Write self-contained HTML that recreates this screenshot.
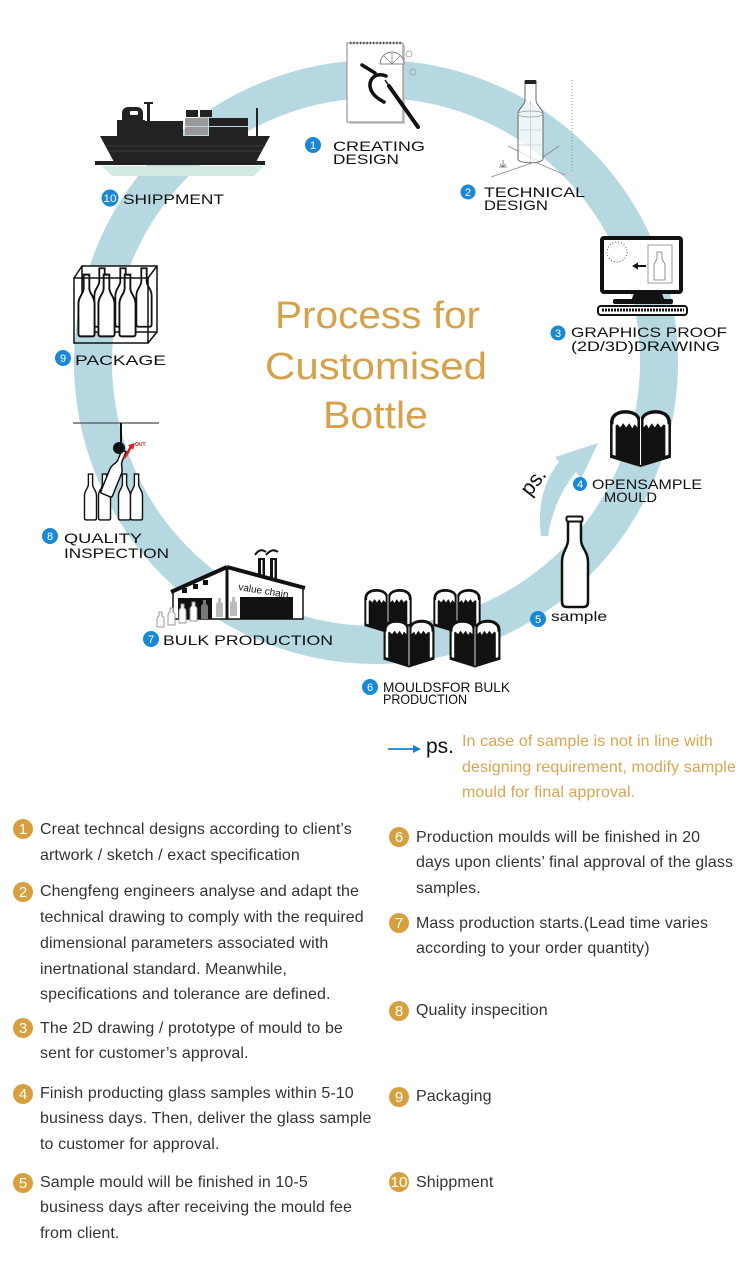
<!DOCTYPE html>
<html>
<head>
<meta charset="utf-8">
<style>
  html,body{margin:0;padding:0;background:#fff;}
  body{width:750px;height:1263px;overflow:hidden;}
  svg{display:block;}
  .lbl{font-family:"Liberation Sans",Arial,sans-serif;font-size:14px;fill:#111;}
  .num{font-family:"Liberation Sans",Arial,sans-serif;font-size:11px;fill:#fff;text-anchor:middle;}
  .tt{font-family:"Liberation Sans",Arial,sans-serif;font-size:38px;fill:#d5a24b;}
  .p{font-family:"Liberation Sans",Arial,sans-serif;font-size:16px;fill:#333;letter-spacing:0.1px;}
  .g{font-family:"Liberation Sans",Arial,sans-serif;font-size:16px;fill:#d8a550;letter-spacing:0.1px;}
  .gn{font-family:"Liberation Sans",Arial,sans-serif;font-size:15px;fill:#fff;text-anchor:middle;}
</style>
</head>
<body>
<svg width="750" height="1263" viewBox="0 0 750 1263" xmlns="http://www.w3.org/2000/svg">
  <defs>
    <symbol id="mould" viewBox="0 0 66 64">
      <polygon points="8,52 33,61 58,52 33,56" fill="#bbb"/>
      <g>
        <path d="M33 60 L3 51 L3 16 C3 8 10 4 18 4 C26 4 33 8 33 14 Z" fill="#111"/>
        <path d="M6.5 16 C6.5 10 12 7.5 18 7.5 C25 7.5 30 10 30 15 L30 21 L27 18 L25 22 L22 17 L19 21 L16 17 L13 21 L10 18 L6.5 21 Z" fill="#fff"/>
        <path d="M5.5 18 L8.5 18 L8.5 49 L5.5 48 Z" fill="#fff"/>
      </g>
      <g transform="translate(66,0) scale(-1,1)">
        <path d="M33 60 L3 51 L3 16 C3 8 10 4 18 4 C26 4 33 8 33 14 Z" fill="#111"/>
        <path d="M6.5 16 C6.5 10 12 7.5 18 7.5 C25 7.5 30 10 30 15 L30 21 L27 18 L25 22 L22 17 L19 21 L16 17 L13 21 L10 18 L6.5 21 Z" fill="#fff"/>
        <path d="M5.5 18 L8.5 18 L8.5 49 L5.5 48 Z" fill="#fff"/>
      </g>
      <line x1="33" y1="12" x2="33" y2="58" stroke="#fff" stroke-width="1"/>
    </symbol>
    <symbol id="btl" viewBox="0 0 20 68">
      <path d="M7 1.5 L13 1.5 L13 16 C13 22 18.5 24 18.5 32 L18.5 64 Q18.5 66.5 16 66.5 L4 66.5 Q1.5 66.5 1.5 64 L1.5 32 C1.5 24 7 22 7 16 Z" fill="#fff" stroke="#111" stroke-width="2"/>
    </symbol>
  </defs>

  <!-- ring -->
  <circle cx="376" cy="362" r="283" fill="none" stroke="#b5d8e1" stroke-width="38"/>

  <!-- ps arrow -->
  <path d="M541 536 C537 506 544 481 559 462 L555 457 L598 443 L581 479 L576 472 C562 489 552 510 548 536 Z" fill="#b5d8e1"/>
  <text x="0" y="0" font-family="Liberation Sans, Arial, sans-serif" font-size="21" fill="#111" transform="translate(530,497) rotate(-52)">ps.</text>

  <!-- title -->
  <text class="tt" x="275" y="328" textLength="205" lengthAdjust="spacingAndGlyphs">Process for</text>
  <text class="tt" x="265" y="379" textLength="222" lengthAdjust="spacingAndGlyphs">Customised</text>
  <text class="tt" x="323" y="428" textLength="105" lengthAdjust="spacingAndGlyphs">Bottle</text>

  <!-- 1 notebook -->
  <rect x="349" y="45" width="56" height="79" fill="#ccc"/>
  <rect x="347" y="43" width="56" height="79" fill="#fff" stroke="#9a9a9a" stroke-width="1.2"/>
  <line x1="350" y1="43" x2="401" y2="43" stroke="#444" stroke-width="2.5" stroke-dasharray="1.3 2"/>
  <path d="M380 64 A12 12 0 0 1 404 64 Z" fill="#fff" stroke="#888" stroke-width="1"/>
  <path d="M392 64 L384 56 M392 64 L392 52 M392 64 L400 56" stroke="#888" stroke-width="0.8"/>
  <circle cx="409" cy="54" r="3" fill="none" stroke="#999" stroke-width="0.8"/>
  <circle cx="413" cy="72" r="3" fill="none" stroke="#999" stroke-width="0.8"/>
  <path d="M362 65 L375 73" stroke="#111" stroke-width="3.5" stroke-linecap="round" fill="none"/>
  <path d="M386 76 C374 71 366 82 372 92 C375 97 380 100 384 102" stroke="#111" stroke-width="3.5" stroke-linecap="round" fill="none"/>
  <line x1="389" y1="86" x2="418" y2="127" stroke="#111" stroke-width="4" stroke-linecap="round"/>
  <line x1="385" y1="80" x2="390" y2="87" stroke="#111" stroke-width="1.5"/>

  <!-- 2 technical bottle -->
  <line x1="572" y1="80" x2="572" y2="173" stroke="#999" stroke-width="1" stroke-dasharray="1 2"/>
  <line x1="508" y1="146" x2="540" y2="162" stroke="#888" stroke-width="0.8"/>
  <line x1="491" y1="177" x2="532" y2="163" stroke="#888" stroke-width="0.8"/>
  <line x1="535" y1="162" x2="565" y2="175" stroke="#888" stroke-width="0.8"/>
  <line x1="543" y1="157" x2="559" y2="146" stroke="#888" stroke-width="0.8"/>
  <path d="M503 160 L503 167 M499 167 L507 167 M500 164 L503 167 L506 164" stroke="#666" stroke-width="0.8" fill="none"/>
  <path d="M525 83 L536 83 L536 100 C536 106 543 108 543 114 L543 159 C543 164 518 164 518 159 L518 114 C518 108 525 106 525 100 Z" fill="#fff" fill-opacity="0.75" stroke="#666" stroke-width="1"/>
  <rect x="524.5" y="80" width="12" height="4" rx="1.5" fill="#222"/>
  <ellipse cx="530.5" cy="114" rx="12.5" ry="3" fill="none" stroke="#999" stroke-width="0.7"/>
  <line x1="518" y1="130" x2="543" y2="130" stroke="#bbb" stroke-width="0.6"/>
  <line x1="518" y1="145" x2="543" y2="145" stroke="#bbb" stroke-width="0.6"/>
  <line x1="530.5" y1="100" x2="530.5" y2="162" stroke="#bbb" stroke-width="0.6"/>

  <!-- 3 monitor -->
  <rect x="602" y="238" width="79" height="54" rx="2" fill="#fff" stroke="#111" stroke-width="4"/>
  <circle cx="617" cy="252" r="10" fill="none" stroke="#555" stroke-width="1" stroke-dasharray="1 2"/>
  <line x1="637" y1="266" x2="646" y2="266" stroke="#111" stroke-width="2"/>
  <polygon points="632,266 638,262.5 638,269.5" fill="#111"/>
  <rect x="648" y="245" width="24" height="38" fill="none" stroke="#888" stroke-width="0.8"/>
  <path d="M657 252 L662 252 L662 258 C662 261 665 262 665 265 L665 280 L654 280 L654 265 C654 262 657 261 657 258 Z" fill="none" stroke="#777" stroke-width="0.8"/>
  <polygon points="634,294 662,294 665,301 631,301" fill="#111"/>
  <rect x="613" y="299" width="60" height="5" rx="2" fill="#111"/>
  <rect x="598" y="306" width="89" height="9" rx="3" fill="#fff" stroke="#111" stroke-width="2"/>
  <line x1="602" y1="310" x2="684" y2="310" stroke="#111" stroke-width="3" stroke-dasharray="2 1"/>

  <!-- 4 open sample mould -->
  <use href="#mould" x="607" y="406" width="67" height="65"/>

  <!-- 5 sample bottle -->
  <path d="M568 521 L568 540 C568 548 562 551 562 562 L562 602 Q562 607 567 607 L583 607 Q588 607 588 602 L588 562 C588 551 581 548 581 540 L581 521 Z" fill="#fff" stroke="#111" stroke-width="2.5"/>
  <rect x="566.5" y="516.5" width="16" height="5" rx="1.5" fill="#fff" stroke="#111" stroke-width="2"/>

  <!-- 6 moulds for bulk -->
  <use href="#mould" x="362" y="584" width="52" height="54"/>
  <use href="#mould" x="431" y="584" width="52" height="54"/>
  <use href="#mould" x="381" y="616" width="56" height="55"/>
  <use href="#mould" x="447" y="616" width="56" height="55"/>

  <!-- 7 factory -->
  <path d="M255 555 C258 550 262 549 266 552 M266 555 C270 550 274 549 278 552" stroke="#111" stroke-width="2" fill="none"/>
  <rect x="258" y="558" width="7" height="22" fill="#111"/>
  <rect x="270" y="558" width="7" height="22" fill="#111"/>
  <rect x="261" y="560" width="1.5" height="18" fill="#fff"/>
  <rect x="273" y="560" width="1.5" height="18" fill="#fff"/>
  <polygon points="173,592 227,568 227,619 173,619" fill="#fff" stroke="#111" stroke-width="1.5"/>
  <polygon points="227,568 303,588 303,619 227,619" fill="#fff" stroke="#111" stroke-width="1.5"/>
  <line x1="171" y1="592" x2="227" y2="567" stroke="#111" stroke-width="4"/>
  <line x1="227" y1="567" x2="305" y2="588" stroke="#111" stroke-width="4"/>
  <line x1="227" y1="567" x2="227" y2="619" stroke="#111" stroke-width="3"/>
  <rect x="240" y="597" width="53" height="22" fill="#111"/>
  <rect x="178" y="598" width="34" height="21" fill="#111"/>
  <rect x="182" y="588" width="5" height="5" fill="#111"/>
  <rect x="193" y="584" width="5" height="5" fill="#111"/>
  <rect x="203" y="580" width="5" height="5" fill="#111"/>
  <text x="238" y="590" font-family="Liberation Sans, Arial, sans-serif" font-size="10" fill="#111" transform="rotate(9 238 590)">value chain</text>
  <g fill="#fff" stroke="#999" stroke-width="1">
    <path d="M159 612 L162 612 L162 616 C164 617 164 618 164 620 L164 627 L157 627 L157 620 C157 618 157 617 159 616 Z"/>
    <path d="M170 608 L173 608 L173 612 C175 613 175 614 175 616 L175 625 L168 625 L168 616 C168 614 168 613 170 612 Z"/>
    <path d="M181 604 L184 604 L184 608 C186 609 186 610 186 612 L186 623 L179 623 L179 612 C179 610 179 609 181 608 Z"/>
    <path d="M192 602 L195 602 L195 606 C197 607 197 608 197 610 L197 621 L190 621 L190 610 C190 608 190 607 192 606 Z"/>
  </g>
  <path d="M203 600 L206 600 L206 604 C208 605 208 606 208 608 L208 619 L201 619 L201 608 C201 606 201 605 203 604 Z" fill="#777"/>
  <path d="M218 598 L221 598 L221 602 C223 603 223 604 223 606 L223 617 L216 617 L216 606 C216 604 216 603 218 602 Z" fill="#bbb"/>
  <path d="M232 597 L235 597 L235 601 C237 602 237 603 237 605 L237 616 L230 616 L230 605 C230 603 230 602 232 601 Z" fill="#bbb"/>

  <!-- 8 quality inspection -->
  <line x1="73" y1="423" x2="159" y2="423" stroke="#666" stroke-width="1.5"/>
  <line x1="121" y1="423" x2="121" y2="443" stroke="#111" stroke-width="2"/>
  <use href="#btl" x="83" y="473" width="15" height="48"/>
  <use href="#btl" x="97" y="473" width="15" height="48"/>
  <use href="#btl" x="117" y="473" width="15" height="48"/>
  <use href="#btl" x="129" y="473" width="15" height="48"/>
  <g transform="rotate(22 115 473)">
    <use href="#btl" x="107" y="448" width="16" height="50"/>
  </g>
  <circle cx="119" cy="448" r="6" fill="#111"/>
  <path d="M124 458 C128 454 129 450 131 446" stroke="#d22" stroke-width="2.5" fill="none"/>
  <polygon points="128,445 135,443 133,450" fill="#d22"/>
  <text x="135" y="446" font-family="Liberation Sans, Arial, sans-serif" font-size="5" font-weight="bold" fill="#c22">OUT</text>

  <!-- 9 package -->
  <rect x="82" y="266" width="75" height="66" fill="#fff" stroke="#111" stroke-width="1.5"/>
  <use href="#btl" x="93" y="265" width="18" height="65"/>
  <use href="#btl" x="114" y="265" width="18" height="65"/>
  <use href="#btl" x="135" y="265" width="18" height="65"/>
  <use href="#btl" x="77" y="272" width="19" height="67"/>
  <use href="#btl" x="97" y="272" width="19" height="67"/>
  <use href="#btl" x="118" y="272" width="19" height="67"/>
  <rect x="74" y="278" width="74" height="65" fill="none" stroke="#111" stroke-width="1.5"/>
  <line x1="74" y1="278" x2="82" y2="266" stroke="#111" stroke-width="1.5"/>
  <line x1="148" y1="278" x2="157" y2="266" stroke="#111" stroke-width="1.5"/>
  <line x1="148" y1="343" x2="157" y2="332" stroke="#111" stroke-width="1.5"/>

  <!-- 10 ship -->
  <polygon points="102,166 264,166 254,176 112,176" fill="#d3eae2"/>
  <rect x="122" y="107" width="21" height="18" rx="6" fill="#222"/>
  <rect x="130" y="111" width="8" height="4" rx="1" fill="#fff"/>
  <rect x="117" y="120" width="28" height="18" fill="#222"/>
  <rect x="147" y="102" width="3" height="20" fill="#222"/>
  <rect x="144" y="102" width="9" height="2" fill="#222"/>
  <rect x="143" y="121" width="40" height="17" fill="#222"/>
  <rect x="186" y="110" width="12" height="7" fill="#222"/>
  <rect x="200" y="110" width="12" height="7" fill="#222"/>
  <rect x="185" y="118" width="23" height="8" fill="#999"/>
  <rect x="185" y="127" width="23" height="8" fill="#999"/>
  <rect x="209" y="118" width="39" height="8" fill="#222"/>
  <rect x="209" y="127" width="39" height="9" fill="#222"/>
  <rect x="256" y="108" width="2" height="29" fill="#222"/>
  <polygon points="100,136 270,136 256,162 114,162" fill="#222"/>
  <line x1="106" y1="146" x2="265" y2="146" stroke="#444" stroke-width="0.8"/>
  <line x1="109" y1="151" x2="262" y2="151" stroke="#444" stroke-width="0.8"/>
  <rect x="95" y="161" width="170" height="4" fill="#222"/>

  <!-- blue number circles & labels -->
  <g fill="#1a88d3">
    <circle cx="313" cy="145" r="8"/>
    <circle cx="468" cy="192" r="7.5"/>
    <circle cx="558" cy="333" r="7.5"/>
    <circle cx="580" cy="484" r="7"/>
    <circle cx="538" cy="619" r="8"/>
    <circle cx="370" cy="687" r="8"/>
    <circle cx="151" cy="639" r="8"/>
    <circle cx="50" cy="536" r="8"/>
    <circle cx="63" cy="358" r="8"/>
    <circle cx="110" cy="198" r="8.5"/>
  </g>
  <text class="num" x="313" y="149">1</text>
  <text class="num" x="468" y="196">2</text>
  <text class="num" x="558" y="337">3</text>
  <text class="num" x="580" y="488">4</text>
  <text class="num" x="538" y="623">5</text>
  <text class="num" x="370" y="691">6</text>
  <text class="num" x="151" y="643">7</text>
  <text class="num" x="50" y="540">8</text>
  <text class="num" x="63" y="362">9</text>
  <text class="num" x="110" y="202" textLength="13" lengthAdjust="spacingAndGlyphs">10</text>

  <text class="lbl" x="333" y="151" textLength="92" lengthAdjust="spacingAndGlyphs">CREATING</text>
  <text class="lbl" x="333" y="164" textLength="66" lengthAdjust="spacingAndGlyphs">DESIGN</text>
  <text class="lbl" x="484" y="197" textLength="101" lengthAdjust="spacingAndGlyphs">TECHNICAL</text>
  <text class="lbl" x="484" y="210" textLength="64" lengthAdjust="spacingAndGlyphs">DESIGN</text>
  <text class="lbl" x="571" y="337" textLength="156" lengthAdjust="spacingAndGlyphs">GRAPHICS PROOF</text>
  <text class="lbl" x="571" y="351" textLength="149" lengthAdjust="spacingAndGlyphs">(2D/3D)DRAWING</text>
  <text class="lbl" x="592" y="489" font-size="13" textLength="110" lengthAdjust="spacingAndGlyphs">OPENSAMPLE</text>
  <text class="lbl" x="604" y="502" font-size="13" textLength="53" lengthAdjust="spacingAndGlyphs">MOULD</text>
  <text class="lbl" x="551" y="621" font-size="15" textLength="56" lengthAdjust="spacingAndGlyphs">sample</text>
  <text class="lbl" x="383" y="692" font-size="13" textLength="127" lengthAdjust="spacingAndGlyphs">MOULDSFOR BULK</text>
  <text class="lbl" x="383" y="704" font-size="13" textLength="84" lengthAdjust="spacingAndGlyphs">PRODUCTION</text>
  <text class="lbl" x="163" y="645" textLength="170" lengthAdjust="spacingAndGlyphs">BULK PRODUCTION</text>
  <text class="lbl" x="64" y="543" textLength="78" lengthAdjust="spacingAndGlyphs">QUALITY</text>
  <text class="lbl" x="64" y="558" textLength="105" lengthAdjust="spacingAndGlyphs">INSPECTION</text>
  <text class="lbl" x="75" y="365" textLength="91" lengthAdjust="spacingAndGlyphs">PACKAGE</text>
  <text class="lbl" x="123" y="204" textLength="101" lengthAdjust="spacingAndGlyphs">SHIPPMENT</text>

  <!-- ps note -->
  <line x1="388" y1="749" x2="415" y2="749" stroke="#1a80c8" stroke-width="1.8"/>
  <polygon points="421,749 413,745 413,753" fill="#1a80c8"/>
  <text x="426" y="753" font-family="Liberation Sans, Arial, sans-serif" font-size="21" fill="#111">ps.</text>
  <text class="g" x="462" y="746">In case of sample is not in line with</text>
  <text class="g" x="462" y="772">designing requirement, modify sample</text>
  <text class="g" x="462" y="797">mould for final approval.</text>

  <!-- gold circles -->
  <g fill="#d6a03f">
    <circle cx="23" cy="829" r="10"/>
    <circle cx="23" cy="892" r="10"/>
    <circle cx="23" cy="1028" r="10"/>
    <circle cx="23" cy="1094" r="10"/>
    <circle cx="23" cy="1183" r="10"/>
    <circle cx="399" cy="837" r="10"/>
    <circle cx="399" cy="923" r="10"/>
    <circle cx="399" cy="1011" r="10"/>
    <circle cx="399" cy="1097" r="10"/>
    <circle cx="399" cy="1182" r="10"/>
  </g>
  <text class="gn" x="23" y="834">1</text>
  <text class="gn" x="23" y="897">2</text>
  <text class="gn" x="23" y="1033">3</text>
  <text class="gn" x="23" y="1099">4</text>
  <text class="gn" x="23" y="1188">5</text>
  <text class="gn" x="399" y="842">6</text>
  <text class="gn" x="399" y="928">7</text>
  <text class="gn" x="399" y="1016">8</text>
  <text class="gn" x="399" y="1102">9</text>
  <text class="gn" x="399" y="1187" textLength="17" lengthAdjust="spacingAndGlyphs">10</text>

  <!-- left column -->
  <text class="p" x="40" y="834">Creat techncal designs according to client’s</text>
  <text class="p" x="40" y="860">artwork / sketch / exact specification</text>

  <text class="p" x="40" y="896">Chengfeng engineers analyse and adapt the</text>
  <text class="p" x="40" y="922">technical drawing to comply with the required</text>
  <text class="p" x="40" y="948">dimensional parameters associated with</text>
  <text class="p" x="40" y="974">inertnational standard. Meanwhile,</text>
  <text class="p" x="40" y="999">specifications and tolerance are defined.</text>

  <text class="p" x="40" y="1033">The 2D drawing / prototype of mould to be</text>
  <text class="p" x="40" y="1058">sent for customer’s approval.</text>

  <text class="p" x="40" y="1098">Finish producting glass samples within 5-10</text>
  <text class="p" x="40" y="1123">business days. Then, deliver the glass sample</text>
  <text class="p" x="40" y="1149">to customer for approval.</text>

  <text class="p" x="40" y="1187">Sample mould will be finished in 10-5</text>
  <text class="p" x="40" y="1212">business days after receiving the mould fee</text>
  <text class="p" x="40" y="1238">from client.</text>

  <!-- right column -->
  <text class="p" x="416" y="842">Production moulds will be finished in 20</text>
  <text class="p" x="416" y="867">days upon clients’ final approval of the glass</text>
  <text class="p" x="416" y="893">samples.</text>

  <text class="p" x="416" y="928">Mass production starts.(Lead time varies</text>
  <text class="p" x="416" y="953">according to your order quantity)</text>

  <text class="p" x="416" y="1015">Quality inspecition</text>
  <text class="p" x="416" y="1101">Packaging</text>
  <text class="p" x="416" y="1187">Shippment</text>
</svg>
</body>
</html>
